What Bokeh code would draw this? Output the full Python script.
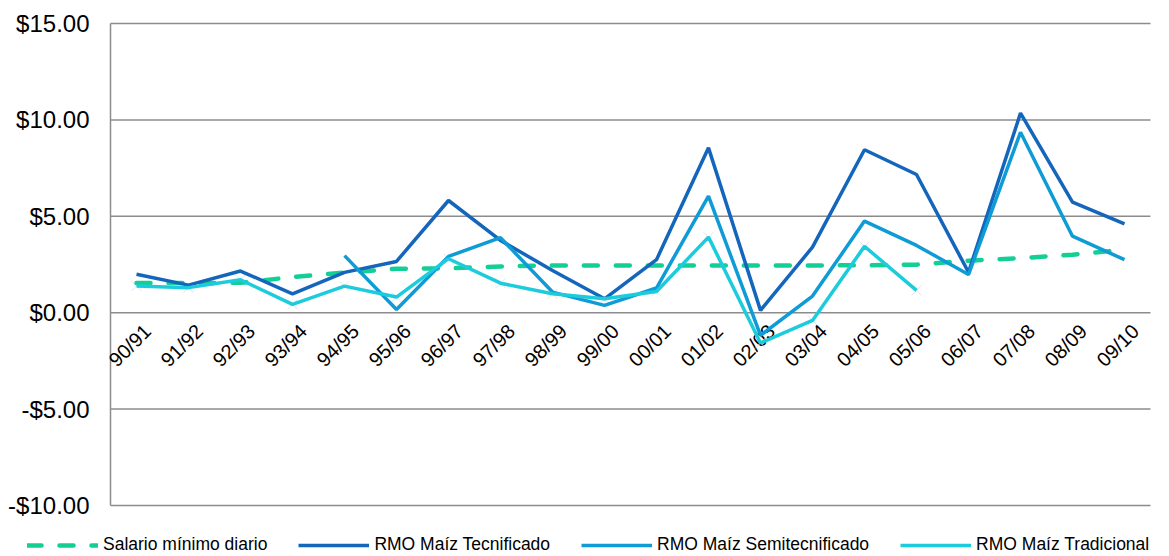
import math
from bokeh.plotting import figure
from bokeh.models import ColumnDataSource, Range1d, Legend, LegendItem
from bokeh.core.properties import value
from bokeh.embed import file_html
from bokeh.resources import INLINE

# Ciclos agrícolas
ciclos = ["90/91", "91/92", "92/93", "93/94", "94/95", "95/96", "96/97", "97/98",
          "98/99", "99/00", "00/01", "01/02", "02/03", "03/04", "04/05", "05/06",
          "06/07", "07/08", "08/09", "09/10"]

# Dólares por jornal
salario_minimo = [1.54, 1.54, 1.55, 1.85, 2.08, 2.28, 2.30, 2.40, 2.45, 2.45,
                  2.45, 2.45, 2.45, 2.45, 2.46, 2.49, 2.70, 2.83, 3.01, 3.27]
rmo_tecnificado = [1.99, 1.43, 2.16, 0.98, 2.09, 2.66, 5.82, 3.75, 2.19, 0.72,
                   2.75, 8.55, 0.12, 3.40, 8.45, 7.17, 2.10, 10.35, 5.73, 4.61]
rmo_semitecnificado = [None, None, None, None, 2.96, 0.17, 2.92, 3.89, 1.07, 0.38,
                       1.28, 6.05, -1.18, 0.86, 4.75, 3.49, 1.98, 9.36, 3.97, 2.75]
rmo_tradicional = [1.38, 1.30, 1.71, 0.43, 1.38, 0.81, 2.80, 1.53, 0.98, 0.72,
                   1.10, 3.92, -1.57, -0.40, 3.44, 1.16, None, None, None, None]

series_names = ["Salario mínimo diario", "RMO Maíz Tecnificado",
                "RMO Maíz Semitecnificado", "RMO Maíz Tradicional"]

y_ticks = [-10, -5, 0, 5, 10, 15]
y_tick_labels = ["-$10.00", "-$5.00", "$0.00", "$5.00", "$10.00", "$15.00"]

# Canvas geometry (pixels)
W, H = 1169, 556
PLOT_LEFT, PLOT_RIGHT = 110, 1150      # plotting area edges
PLOT_TOP, PLOT_BOTTOM = 23, 505        # pixel rows of the top/bottom ticks

GRID = "#8c8c8c"
FONT = "Liberation Sans"

STYLES = [
    dict(line_color="#14cf95", line_width=4.5, line_dash="14 18", line_cap="round"),
    dict(line_color="#1366bb", line_width=3.5),
    dict(line_color="#0e9bd6", line_width=3.5),
    dict(line_color="#1cccdc", line_width=3.5),
]


def nan(v):
    return [float("nan") if x is None else x for x in v]


n = len(ciclos)
idx = list(range(n))

# Map category slots onto the plotting area and the tick span onto its rows
px_per_cat = (PLOT_RIGHT - PLOT_LEFT) / n
x_start = -0.5 - PLOT_LEFT / px_per_cat
x_end = x_start + W / px_per_cat
y_lo, y_hi = min(y_ticks), max(y_ticks)
units_per_px = (y_hi - y_lo) / (PLOT_BOTTOM - PLOT_TOP)
y_top = y_hi + PLOT_TOP * units_per_px
y_bottom = y_lo - (H - PLOT_BOTTOM) * units_per_px

src = ColumnDataSource(dict(
    i=idx,
    ciclo=ciclos,
    salario=salario_minimo,
    tec=rmo_tecnificado,
    semi=nan(rmo_semitecnificado),
    trad=nan(rmo_tradicional),
    cero=[0] * n,
))

p = figure(width=W, height=H, output_backend="svg", toolbar_location=None,
           x_range=Range1d(x_start, x_end), y_range=Range1d(y_bottom, y_top),
           min_border_left=0, min_border_right=0, min_border_top=0,
           min_border_bottom=0)
p.axis.visible = False
p.grid.visible = False
p.outline_line_color = None
p.background_fill_color = "white"
p.border_fill_color = "white"

# Horizontal gridlines and the vertical value axis
p.segment(x0=[-0.5] * len(y_ticks), x1=[n - 0.5] * len(y_ticks), y0=y_ticks, y1=y_ticks,
          line_color=GRID, line_width=1.5)
p.segment(x0=[-0.5], x1=[-0.5], y0=[y_lo], y1=[y_hi], line_color=GRID, line_width=1.5)

# Value-axis labels
p.text(x=[-0.5] * len(y_ticks), y=y_ticks, text=y_tick_labels, x_offset=-21,
       text_align="right", text_baseline="middle",
       text_font=value(FONT), text_font_size="24px", text_color="black")

# Category labels hanging below the zero line
p.text(x="i", y="cero", text="ciclo", source=src, angle=math.pi / 4,
       text_align="right", text_baseline="middle", x_offset=11, y_offset=15,
       text_font=value(FONT), text_font_size="20px", text_color="black")

# Faint markers on the traditional series
p.scatter(x="i", y="trad", source=src, marker="x", size=14,
          line_color="#dfe3f3", line_width=1)

renderers = []
for col, st in zip(["salario", "tec", "semi", "trad"], STYLES):
    renderers.append(p.line(x="i", y=col, source=src, **st))

legend = Legend(items=[LegendItem(label=nm, renderers=[r])
                       for nm, r in zip(series_names, renderers)],
                orientation="horizontal", location=(27, 1))
legend.padding = 0
legend.margin = 0
legend.spacing = 31
legend.glyph_width = 71
legend.glyph_height = 14
legend.label_height = 14
legend.label_standoff = 5
legend.label_text_font = FONT
legend.label_text_font_size = "17.5px"
legend.label_text_color = "black"
legend.border_line_color = None
legend.background_fill_alpha = 0
p.add_layout(legend, "center")

open("out.html", "w").write(file_html(p, INLINE))
